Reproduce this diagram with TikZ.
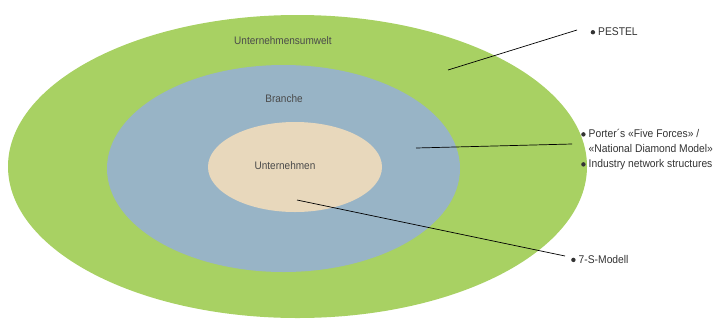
\documentclass[tikz,border=0pt]{standalone}
\usepackage{fontspec}
\setmainfont[FakeStretch=0.92]{Liberation Sans}
\definecolor{envgreen}{HTML}{A8D163}
\definecolor{brblue}{HTML}{98B4C6}
\definecolor{cobeige}{HTML}{E8D8BC}
\definecolor{lbl}{HTML}{4A4A4A}
\definecolor{txt}{HTML}{333333}
\newcommand\mybul{\makebox[7.5pt][l]{\tikz[baseline=-3.6pt]\fill[txt] (2.2pt,0) circle (2.2pt);}}
\begin{document}
\begin{tikzpicture}[x=1pt,y=-1pt,
  lbltext/.style={text=lbl,font=\fontsize{10.9}{13}\selectfont,inner sep=0pt},
  side/.style={text=txt,font=\fontsize{11.2}{15}\selectfont,inner sep=0pt,anchor=west,align=left},
  conn/.style={draw=black,line width=0.7pt}]
\useasboundingbox (0,0) rectangle (719,330);
\fill[envgreen] (297.5,166.5) ellipse [x radius=289.5,y radius=151.5];
\fill[brblue] (283.5,168.5) ellipse [x radius=176.5,y radius=103.5];
\fill[cobeige] (295,167) ellipse [x radius=87,y radius=45];
\node[lbltext] (umwelt) at (283,41) {Unternehmensumwelt};
\node[lbltext] (branche) at (284,99) {Branche};
\node[lbltext] (unt) at (285,166) {Unternehmen};
\node[side] (pestel) at (590.5,32) {\mybul PESTEL};
\node[side] (porter) at (581,150) {\mybul Porter´s «Five Forces» /\\\hspace{7.5pt}«National Diamond Model»\\\mybul Industry network structures};
\node[side] (seven) at (571,259.5) {\mybul 7-S-Modell};
\coordinate (p1) at (448,70);
\coordinate (p2) at (577,30);
\coordinate (b1) at (416,148);
\coordinate (b2) at (572,144);
\coordinate (s1) at (297,200);
\coordinate (s2) at (565,256);
\draw[conn] (p1) -- (p2);
\draw[conn] (b1) -- (b2);
\draw[conn] (s1) -- (s2);
\end{tikzpicture}
\end{document}
